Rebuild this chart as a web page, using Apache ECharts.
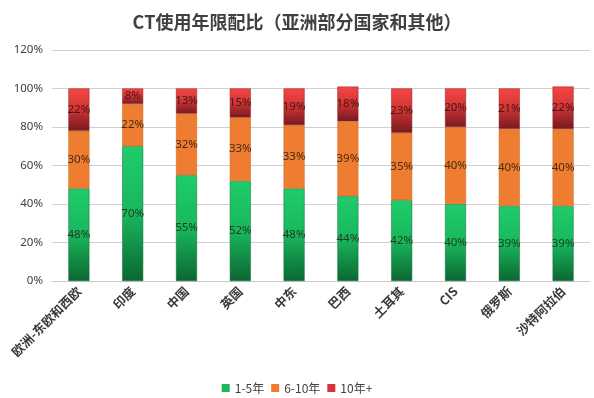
<!DOCTYPE html>
<html>
<head>
<meta charset="utf-8">
<script src="https://cdn.jsdelivr.net/npm/echarts@6/dist/echarts.min.js"></script>
<style>
html,body{margin:0;padding:0;background:#fff}
#main{width:594px;height:398px}
</style>
</head>
<body>
<div id="main"></div>
<script>
// 数据
var regions = ['欧洲-东欧和西欧','印度','中国','英国','中东','巴西','土耳其','CIS','俄罗斯','沙特阿拉伯']
var years1to5 = [48,70,55,52,48,44,42,40,39,39]
var years6to10 = [30,22,32,33,33,39,35,40,40,40]
var years10plus = [22,8,13,15,19,18,23,20,21,22]
var yTicks = [0,20,40,60,80,100,120]

var chart = echarts.init(document.getElementById('main'))

function grad(stops){
	return new echarts.graphic.LinearGradient(0,0,0,1,stops)
}
var greenFill = grad([{offset:0,color:'#1fcc6a'},{offset:0.5,color:'#19b75c'},{offset:1,color:'#0c6632'}])
var redFill = grad([{offset:0,color:'#f84545'},{offset:0.45,color:'#d43636'},{offset:1,color:'#761a1e'}])
var orangeFill = '#ee7d31'

function labelOf(clr){
	return {
		show:true,
		position:'inside',
		formatter:'{c}%',
		color:clr,
		fontSize:11.5,
		fontFamily:'Noto Sans'
	}
}

var option = {
	animation:false,
	title:{
		text:'CT使用年限配比（亚洲部分国家和其他）',
		left:'center',
		top:8,
		textStyle:{fontSize:18,fontWeight:'bold',color:'#404040',fontFamily:'Noto Sans CJK SC'}
	},
	legend:{
		top:377,
		left:'center',
		itemWidth:8,
		itemHeight:8,
		itemGap:7,
		icon:'rect',
		textStyle:{fontSize:12,color:'#404040',fontFamily:'Noto Sans CJK SC'},
		data:[
			{name:'1-5年',itemStyle:{color:'#1cb75c',borderWidth:0}},
			{name:'6-10年',itemStyle:{color:'#ee7d31',borderWidth:0}},
			{name:'10年+',itemStyle:{color:'#d9333a',borderWidth:0}}
		]
	},
	grid:{left:52,right:4,top:50,bottom:117},
	xAxis:{
		type:'category',
		data:regions,
		axisTick:{show:false},
		axisLine:{lineStyle:{color:'#c8c8c8'}},
		axisLabel:{
			rotate:45,
			interval:0,
			margin:8,
			fontSize:12.5,
			fontWeight:'bold',
			color:'#3a3a3a',
			fontFamily:'Noto Sans CJK SC'
		}
	},
	yAxis:{
		type:'value',
		min:0,
		max:120,
		interval:20,
		axisLine:{show:false},
		axisTick:{show:false},
		splitLine:{lineStyle:{color:'#d0d0d0'}},
		axisLabel:{
			formatter:function(v){ return yTicks.indexOf(v)>=0 ? v+'%' : '' },
			fontSize:11.5,
			color:'#404040',
			margin:9,
			fontFamily:'Noto Sans'
		}
	},
	series:[
		{
			name:'1-5年',
			type:'bar',
			stack:'all',
			barWidth:21,
			data:years1to5,
			itemStyle:{color:greenFill,borderColor:'#136b38',borderWidth:0.5},
			label:labelOf('#1d3b25')
		},
		{
			name:'6-10年',
			type:'bar',
			stack:'all',
			data:years6to10,
			itemStyle:{color:orangeFill,borderColor:'#c9651f',borderWidth:0.5},
			label:labelOf('#4a2a10')
		},
		{
			name:'10年+',
			type:'bar',
			stack:'all',
			data:years10plus,
			itemStyle:{color:redFill,borderColor:'#8a2020',borderWidth:0.5},
			label:labelOf('#4a1515')
		}
	],
	color:['#1eb95d','#ee7d31','#e0343a']
}
chart.setOption(option)
</script>
</body>
</html>
